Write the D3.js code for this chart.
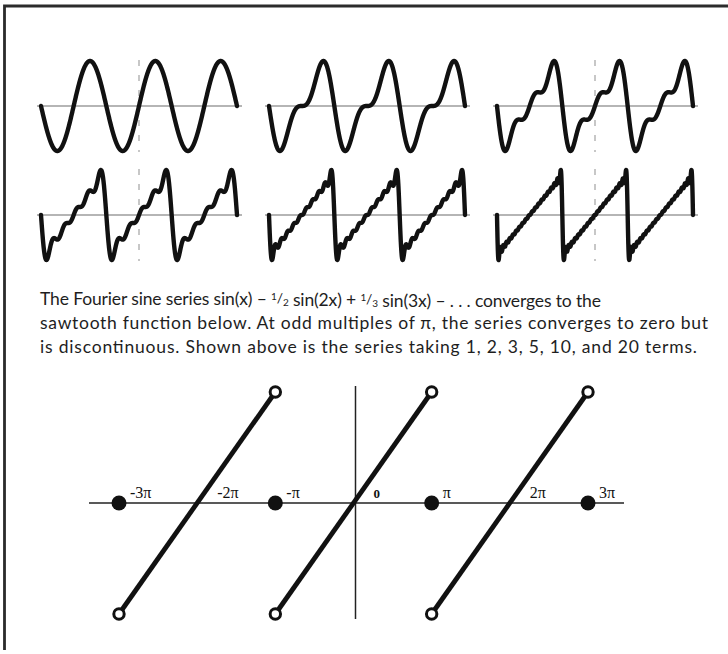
<!DOCTYPE html>
<html>
<head>
<meta charset="utf-8">
<script src="https://cdn.jsdelivr.net/npm/d3@7"></script>
<style>
  html, body { margin: 0; padding: 0; background: #fff; }
  svg { display: block; }
</style>
</head>
<body>
<svg id="chart" width="728" height="654"></svg>
<script>
const PI = Math.PI;

// Number of terms kept in each partial-sum panel (row-major order)
const termCounts = [1, 2, 3, 5, 10, 20];
// Interval plotted in every panel
const panelDomain = [-3 * PI, 3 * PI];

// Sawtooth diagram: segments of f(x) = x/2 repeated with period 2π
const sawSegments = [[-3 * PI, -PI], [-PI, PI], [PI, 3 * PI]];
const sawJumpPoints = [-3 * PI, -PI, PI, 3 * PI];        // series value 0 here
const sawTickValues = [-3 * PI, -2 * PI, -PI, 0, PI, 2 * PI, 3 * PI];
const sawTickLabels = ["-3π", "-2π", "-π", "0", "π", "2π", "3π"];

// Paragraph lines; fractions are marked as {num, den}
const captionLines = [
  ["The Fourier sine series sin(x) – ", {num: "1", den: "2"}, " sin(2x) + ",
   {num: "1", den: "3"}, " sin(3x) – . . . converges to the"],
  ["sawtooth function below. At odd multiples of π, the series converges to zero but"],
  ["is discontinuous. Shown above is the series taking 1, 2, 3, 5, 10, and 20 terms."]
];
// set width of each caption line
const captionWidths = [561, 668, 657];

// Partial sum of sin(x) − sin(2x)/2 + sin(3x)/3 − …
function partialSum(n, x) {
  let s = 0;
  for (let k = 1; k <= n; k++) s += (k % 2 ? 1 : -1) * Math.sin(k * x) / k;
  return s;
}

const svg = d3.select("#chart");

// frame (top and left edges)
svg.append("path")
  .attr("d", "M4.5,650 L4.5,6 L728,6")
  .attr("fill", "none")
  .attr("stroke", "#2b2b2b")
  .attr("stroke-width", 2.8);

// ---------- small panels ----------
const panelW = 196, colStep = 228, panelLeft = 41;
const rowAxisY = [106, 215];
const amp = 45;

termCounts.forEach((n, i) => {
  const col = i % 3, row = Math.floor(i / 3);
  const x0 = panelLeft + col * colStep;
  const cy = rowAxisY[row];

  const xs = d3.range(0, 1601).map(j => panelDomain[0] + (panelDomain[1] - panelDomain[0]) * j / 1600);
  const pts = xs.map(x => [x, partialSum(n, x)]);
  const maxAbs = d3.max(pts, d => Math.abs(d[1]));

  const x = d3.scaleLinear().domain(panelDomain).range([x0, x0 + panelW]);
  const y = d3.scaleLinear().domain([-maxAbs, maxAbs]).range([cy + amp, cy - amp]);

  const g = svg.append("g").attr("class", "panel");

  // horizontal axis
  g.append("line")
    .attr("x1", x0 - 4).attr("x2", x0 + panelW + 5)
    .attr("y1", y(0)).attr("y2", y(0))
    .attr("stroke", "#9d9d9d").attr("stroke-width", 1.6);

  // faint vertical axis at x = 0
  if (col !== 1) {
    g.append("line")
      .attr("x1", x(0)).attr("x2", x(0))
      .attr("y1", cy - amp - 1).attr("y2", cy + amp + 1)
      .attr("stroke", "#9a9a9a").attr("stroke-width", 1.1)
      .attr("stroke-dasharray", "6,9");
  }

  g.append("path")
    .datum(pts)
    .attr("d", d3.line().x(d => x(d[0])).y(d => y(d[1])))
    .attr("fill", "none")
    .attr("stroke", "#111")
    .attr("stroke-width", 4.4)
    .attr("stroke-linejoin", "round")
    .attr("stroke-linecap", "round");
});

// ---------- caption ----------
const textX = 40, textY0 = 305, lineGap = 24;
const cap = svg.append("g")
  .attr("font-family", "Lato, 'Open Sans', sans-serif")
  .attr("font-size", 17.5)
  .attr("fill", "#1e1e1e");

captionLines.forEach((parts, li) => {
  const t = cap.append("text")
    .attr("x", textX).attr("y", textY0 + li * lineGap)
    .attr("textLength", captionWidths[li])
    .attr("lengthAdjust", "spacing");
  parts.forEach(p => {
    if (typeof p === "string") {
      t.append("tspan").text(p);
    } else {
      t.append("tspan").attr("font-size", 10).attr("dy", -5).text(p.num);
      t.append("tspan").attr("font-size", 14).attr("dy", 3).text("/");
      t.append("tspan").attr("font-size", 10).attr("dy", 3).text(p.den);
      t.append("tspan").attr("dy", -1).text("");
    }
  });
});

// ---------- sawtooth ----------
const sx = d3.scaleLinear().domain([-3 * PI, 3 * PI]).range([119, 588]);
const sy = d3.scaleLinear().domain([-PI / 2, PI / 2]).range([614, 392]);
const saw = svg.append("g");

// horizontal axis
saw.append("line")
  .attr("x1", 89).attr("x2", 624)
  .attr("y1", sy(0)).attr("y2", sy(0))
  .attr("stroke", "#222").attr("stroke-width", 1.5);

// vertical axis
saw.append("line")
  .attr("x1", sx(0) + 2).attr("x2", sx(0) + 2)
  .attr("y1", sy(PI / 2) - 6).attr("y2", sy(-PI / 2) + 5)
  .attr("stroke", "#222").attr("stroke-width", 1.5);

// segments of the limit function
saw.selectAll("line.seg")
  .data(sawSegments)
  .join("line")
  .attr("class", "seg")
  .attr("x1", d => sx(d[0])).attr("y1", sy(-PI / 2))
  .attr("x2", d => sx(d[1])).attr("y2", sy(PI / 2))
  .attr("stroke", "#111").attr("stroke-width", 4.8);

// open ends of each segment
const openEnds = sawSegments.flatMap(d => [[d[0], -PI / 2], [d[1], PI / 2]]);
saw.selectAll("circle.open")
  .data(openEnds)
  .join("circle")
  .attr("class", "open")
  .attr("cx", d => sx(d[0])).attr("cy", d => sy(d[1]))
  .attr("r", 5.2)
  .attr("fill", "#fff").attr("stroke", "#111").attr("stroke-width", 3);

// value of the series at the jumps
saw.selectAll("circle.jump")
  .data(sawJumpPoints)
  .join("circle")
  .attr("class", "jump")
  .attr("cx", d => sx(d)).attr("cy", sy(0))
  .attr("r", 7.5)
  .attr("fill", "#111");

// tick labels
saw.selectAll("text.tick")
  .data(sawTickValues)
  .join("text")
  .attr("class", "tick")
  .attr("x", (d, i) => sx(d) + (i % 2 === 0 ? 11 : 20))
  .attr("y", sy(0) - 5)
  .attr("font-family", "'Liberation Serif', 'Times New Roman', serif")
  .attr("font-size", (d, i) => d === 0 ? 13 : 16)
  .attr("font-weight", d => d === 0 ? "bold" : "normal")
  .attr("fill", "#111")
  .text((d, i) => sawTickLabels[i]);
</script>
</body>
</html>
